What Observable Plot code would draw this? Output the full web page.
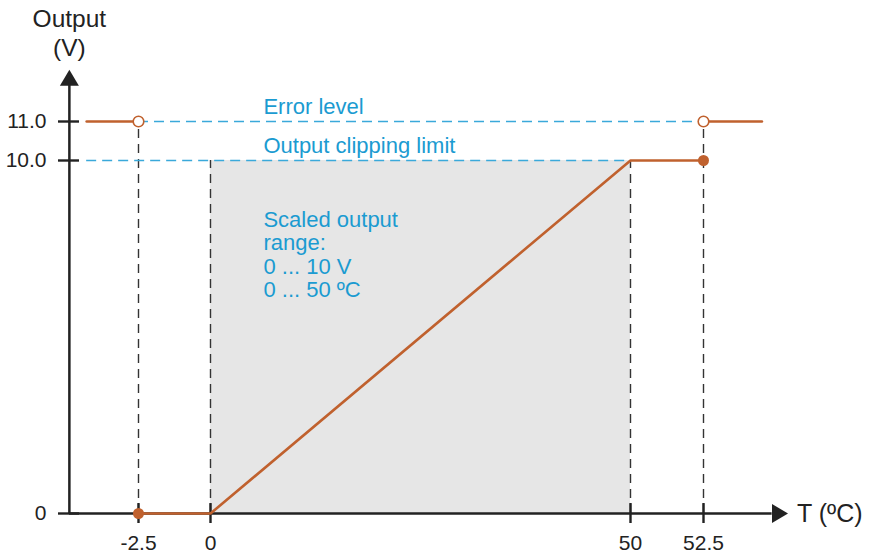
<!DOCTYPE html>
<html>
<head>
<meta charset="utf-8">
<script src="https://cdn.jsdelivr.net/npm/d3@7"></script>
<script src="https://cdn.jsdelivr.net/npm/@observablehq/plot@0.6"></script>
<style>
  html, body { margin: 0; padding: 0; background: #ffffff; }
  #chart svg { display: block; }
</style>
</head>
<body>
<div id="chart"></div>
<script>
// ---- data ----
const xTicks = [-2.5, 0, 50, 52.5];
const xTickLabels = ["-2.5", "0", "50", "52.5"];
const yTicks = [0, 10, 11];
const yTickLabels = ["0", "10.0", "11.0"];

// output characteristic (T in ºC, output in V)
const curveT = [-2.5, 0, 50, 52.5];
const curveV = [0, 0, 10, 10];

// error level segments (output = 11 V outside the range)
const errorLeftT = [-4.3, -2.5];
const errorRightT = [52.5, 54.5];
const errorV = 11;

// clipping limit and scaled range
const clipV = 10;
const scaledT = [0, 50];
const scaledV = [0, 10];

// axis extents (schematic)
const axisT0 = -4.9;
const axisTEnd = 54.85;
const axisVEnd = 11.92;

const labels = {
  yTitle: "Output\n(V)",
  xTitle: "T (ºC)",
  error: "Error level",
  clip: "Output clipping limit",
  scaled: "Scaled output\nrange:\n0 ... 10 V\n0 ... 50 ºC"
};

// ---- derived tables ----
const curve = curveT.map((t, i) => ({t, v: curveV[i]}));
const errLeft = errorLeftT.map(t => ({t, v: errorV}));
const errRight = errorRightT.map(t => ({t, v: errorV}));
const vGuides = [
  {t: curveT[0], v: errorV},
  {t: scaledT[0], v: clipV},
  {t: scaledT[1], v: clipV},
  {t: curveT[3], v: errorV}
];
const hGuides = [
  {v: errorV, t1: curveT[0], t2: curveT[3]},
  {v: clipV, t1: errorLeftT[0], t2: scaledT[1]}
];
const filledDots = [{t: curveT[0], v: curveV[0]}, {t: curveT[3], v: curveV[3]}];
const openDots = [{t: curveT[0], v: errorV}, {t: curveT[3], v: errorV}];

// schematic (piecewise) axes: the picture is not to scale
const W = 878, H = 557;
const xWarp = d3.scaleLinear().domain(xTicks).range([138, 210, 630, 703]);
const yWarp = d3.scaleLinear().domain(yTicks).range([513, 160, 121]);

const ORANGE = "#c0612e";
const BLUE_TEXT = "#1b9bd1";
const BLUE_LINE = "#3aa9da";
const INK = "#222222";
const arrowHead = {
  draw(ctx) {
    ctx.moveTo(8, 0);
    ctx.lineTo(-8, -9.5);
    ctx.lineTo(-8, 9.5);
    ctx.closePath();
  }
};

const chart = Plot.plot({
  width: W,
  height: H,
  marginLeft: 69,
  marginBottom: 44,
  marginTop: 0,
  marginRight: 0,
  style: {fontFamily: "'Liberation Sans', Arial, Helvetica, sans-serif", background: "#ffffff", color: INK},
  x: {type: "linear", transform: xWarp, domain: [0, W], range: [0, W]},
  y: {type: "linear", transform: yWarp, domain: [0, H], range: [0, H]},
  marks: [
    Plot.rect([{}], {x1: () => scaledT[0], x2: () => scaledT[1], y1: () => scaledV[0], y2: () => scaledV[1], fill: "#e6e6e6"}),
    Plot.ruleX(vGuides, {x: "t", y1: () => 0, y2: "v", stroke: "#333", strokeWidth: 1.4, strokeDasharray: "9,6"}),
    Plot.ruleY(hGuides, {y: "v", x1: "t1", x2: "t2", stroke: BLUE_LINE, strokeWidth: 1.4, strokeDasharray: "10,6"}),
    // axes lines + arrowheads
    Plot.ruleY([0], {x1: () => axisT0, x2: () => axisTEnd, stroke: INK, strokeWidth: 2.5}),
    Plot.ruleX([axisT0], {y1: () => 0, y2: () => axisVEnd, stroke: INK, strokeWidth: 2.5}),
    Plot.dot([{t: axisTEnd + 0.27, v: 0}], {x: "t", y: "v", symbol: arrowHead, fill: INK, stroke: "none", r: 5}),
    Plot.dot([{t: axisT0, v: axisVEnd + 0.2}], {x: "t", y: "v", symbol: arrowHead, fill: INK, stroke: "none", r: 5, rotate: -90}),
    Plot.axisX(xTicks, {tickFormat: (d) => xTickLabels[xTicks.indexOf(d)], tickSize: 20, dy: -10, tickPadding: 12, fontSize: 21, stroke: INK, strokeWidth: 2.4, color: INK, label: null}),
    Plot.axisY(yTicks, {tickFormat: (d) => yTickLabels[yTicks.indexOf(d)], tickSize: 21, dx: 10, tickPadding: 12, fontSize: 21, stroke: INK, strokeWidth: 2.4, color: INK, label: null}),
    // output characteristic
    Plot.line(curve, {x: "t", y: "v", stroke: ORANGE, strokeWidth: 2.6}),
    Plot.line(errLeft, {x: "t", y: "v", stroke: ORANGE, strokeWidth: 2.6}),
    Plot.line(errRight, {x: "t", y: "v", stroke: ORANGE, strokeWidth: 2.6}),
    Plot.dot(filledDots, {x: "t", y: "v", r: 5.5, fill: ORANGE, stroke: "none"}),
    Plot.dot(openDots, {x: "t", y: "v", r: 5.3, fill: "#ffffff", stroke: ORANGE, strokeWidth: 1.6}),
    // annotations
    Plot.text([labels.error], {x: () => 6.3, y: () => errorV, text: d => d, textAnchor: "start", lineAnchor: "bottom", dy: -8, fontSize: 22, fill: BLUE_TEXT}),
    Plot.text([labels.clip], {x: () => 6.3, y: () => clipV, text: d => d, textAnchor: "start", lineAnchor: "bottom", dy: -8, fontSize: 22, fill: BLUE_TEXT}),
    Plot.text([labels.scaled], {x: () => 6.3, y: () => 6.12, text: d => d, textAnchor: "start", lineAnchor: "bottom", lineHeight: 1.07, fontSize: 22, fill: BLUE_TEXT}),
    Plot.text([labels.yTitle], {x: () => axisT0, y: () => 12.69, text: d => d, textAnchor: "middle", lineAnchor: "bottom", lineHeight: 1.15, fontSize: 24.5, fill: INK}),
    Plot.text([labels.xTitle], {x: () => axisTEnd + 0.85, y: () => 0, text: d => d, textAnchor: "start", lineAnchor: "middle", fontSize: 25, fill: INK})
  ]
});
document.getElementById("chart").appendChild(chart);
</script>
</body>
</html>
